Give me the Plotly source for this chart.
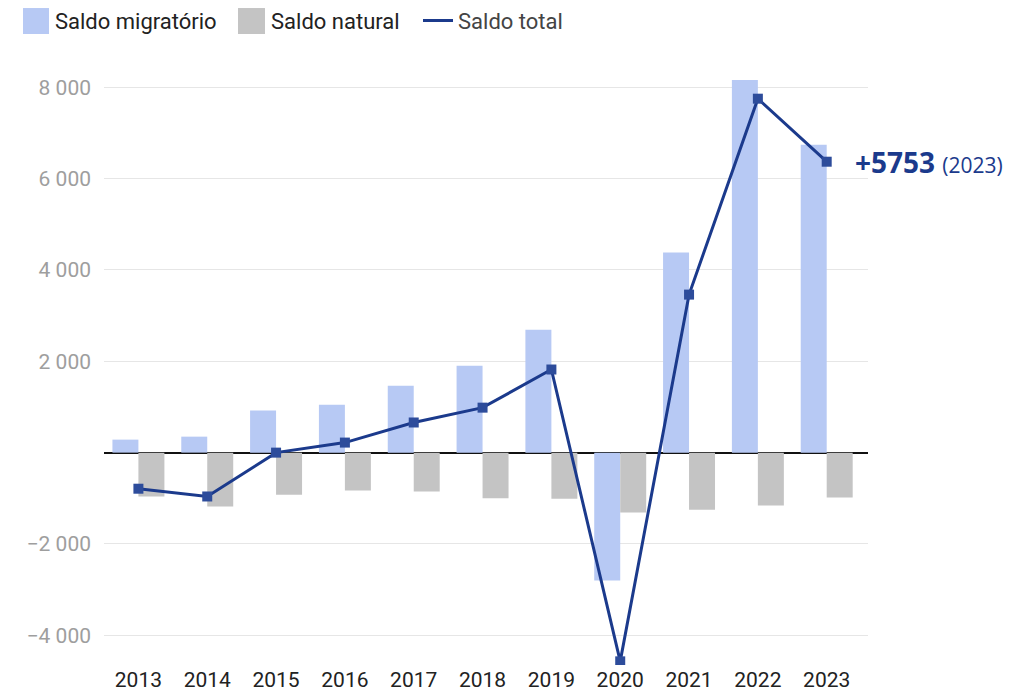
import plotly.graph_objects as go

years = ["2013", "2014", "2015", "2016", "2017", "2018", "2019", "2020", "2021", "2022", "2023"]
saldo_migratorio = [285, 350, 920, 1050, 1465, 1905, 2690, -2800, 4380, 8160, 6740]
saldo_natural = [-960, -1180, -920, -830, -850, -1000, -1010, -1310, -1250, -1160, -985]
saldo_total = [-790, -960, 0, 220, 660, 985, 1820, -4570, 3460, 7750, 6370]
y_ticks = [-4000, -2000, 2000, 4000, 6000, 8000]
y_tick_text = ["\u22124 000", "\u22122 000", "2 000", "4 000", "6 000", "8 000"]
label_main = "+5753"
label_year = "(2023)"

NAVY = "#1b3a8c"
MIG_COLOR = "#b7c9f4"
NAT_COLOR = "#c4c4c4"

fig = go.Figure()
fig.add_trace(go.Bar(x=years, y=saldo_migratorio, name="Saldo migratório", legend="legend",
                     marker=dict(color=MIG_COLOR, line=dict(width=0))))
fig.add_trace(go.Bar(x=years, y=saldo_natural, name="Saldo natural", legend="legend2",
                     marker=dict(color=NAT_COLOR, line=dict(width=0))))
fig.add_trace(go.Scatter(x=years, y=saldo_total, name="Saldo total", mode="lines+markers",
                         showlegend=False,
                         line=dict(color=NAVY, width=3),
                         marker=dict(symbol="square", size=10, color="#2d4c9b")))
# legend entry (line only)
fig.add_trace(go.Scatter(x=[None], y=[None], name="<span style='color:#444'>Saldo total</span>",
                         legend="legend3", mode="lines", line=dict(color=NAVY, width=3)))

fig.add_annotation(x=0.98, y=saldo_total[-1], xref="paper", yref="y",
                   text=f"<b>{label_main}</b> <span style='font-size:21px'>{label_year}</span>",
                   showarrow=False, xanchor="left", yanchor="middle",
                   font=dict(family="Open Sans", size=28, color=NAVY))

# larger legend swatches like the reference
fig.add_shape(type="rect", xref="paper", yref="paper", x0=-0.1060, x1=-0.0720,
              y0=1.0587, y1=1.1023, fillcolor=MIG_COLOR, line=dict(width=0), layer="above")
fig.add_shape(type="rect", xref="paper", yref="paper", x0=0.1754, x1=0.2107,
              y0=1.0587, y1=1.1023, fillcolor=NAT_COLOR, line=dict(width=0), layer="above")

leg_common = dict(orientation="h", yanchor="middle", xanchor="left", y=1.081,
                  font=dict(family="Roboto", size=22, color="#222"),
                  bgcolor="rgba(0,0,0,0)", borderwidth=0)

fig.update_layout(
    width=1027, height=682,
    margin=dict(l=96, r=167, t=61, b=25, autoexpand=False),
    plot_bgcolor="white", paper_bgcolor="white",
    barmode="group", bargap=0.245, bargroupgap=0,
    font=dict(family="Roboto", size=22, color="#222"),
    showlegend=True,
    legend=dict(x=-0.1165, **leg_common),
    legend2=dict(x=0.1663, **leg_common),
    legend3=dict(x=0.4110, **leg_common),
    xaxis=dict(type="category", range=[-0.5, 10.6], showgrid=False, showline=False,
               ticks="", automargin=False,
               tickfont=dict(family="Roboto", size=21, color="#222")),
    yaxis=dict(range=[-4650, 8400], tickvals=y_ticks, ticktext=y_tick_text,
               showgrid=True, gridcolor="#e6e6e6", gridwidth=1,
               zeroline=True, zerolinecolor="#111", zerolinewidth=2,
               ticks="", ticklabelstandoff=12, automargin=False,
               tickfont=dict(family="Roboto", size=21, color="#9e9e9e")),
)

fig.write_html("out.html")
